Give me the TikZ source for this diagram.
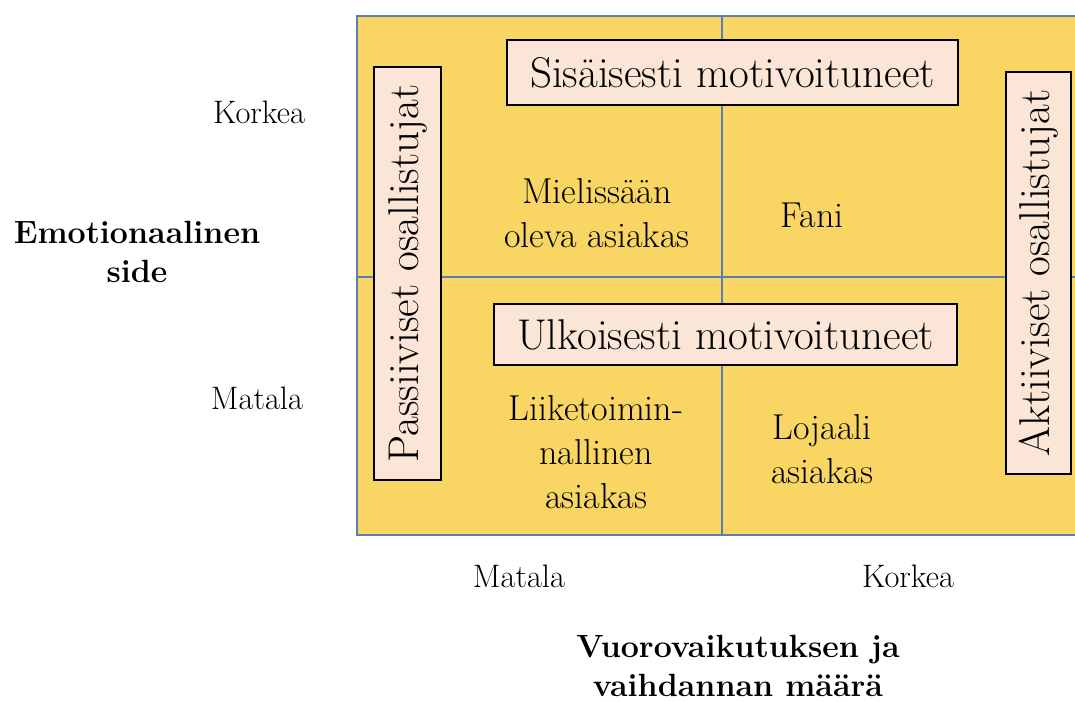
\documentclass[tikz,border=0pt]{standalone}
\usetikzlibrary{positioning}
\definecolor{quadyellow}{HTML}{F9D564}
\definecolor{boxpink}{HTML}{FBE5D6}
\definecolor{gridblue}{HTML}{5A7DB5}

\begin{document}
\begin{tikzpicture}[x=0.02cm,y=-0.02cm,
  group/.style={draw=black,line width=1pt,fill=boxpink,inner sep=0pt,font=\fontsize{24.5}{28}\selectfont},
  quad/.style={align=center,font=\fontsize{20.5}{25}\selectfont},
  level/.style={font=\fontsize{18.5}{22}\selectfont},
  axis/.style={align=center,font=\bfseries\fontsize{18.3}{22}\selectfont}]

\useasboundingbox (0,0) rectangle (1075,702);
\clip (0,0) rectangle (1075,702);

% quadrants
\coordinate (nw) at (357,16);
\coordinate (se) at (1087,535);
\coordinate (mid) at (722,277);
\draw[gridblue,line width=1pt,fill=quadyellow] (nw) rectangle (se);
\draw[gridblue,line width=1pt] (nw -| mid) -- (se -| mid);
\draw[gridblue,line width=1pt] (nw |- mid) -- (se |- mid);

% group boxes
\node[group,minimum width=9.02cm,minimum height=1.3cm] at (732.5,72.5) (inner) {Sisäisesti motivoituneet};
\node[group,minimum width=9.26cm,minimum height=1.22cm] at (725.5,334.5) (outer) {Ulkoisesti motivoituneet};
\node[group,rotate=90,minimum width=8.26cm,minimum height=1.34cm] at (407.5,273.5) (passive) {Passiiviset osallistujat};
\node[group,rotate=90,minimum width=8.04cm,minimum height=1.3cm] at (1038.5,273) (active) {Aktiiviset osallistujat};

% quadrant texts
\node[quad] at (597,213) (pleased) {Mielissään\\oleva asiakas};
\node[quad] at (812,215) (fan) {Fani};
\node[quad] at (596,452) (business) {Liiketoimin-\\nallinen\\asiakas};
\node[quad] at (822,449) (loyal) {Lojaali\\asiakas};

% axes
\foreach \name/\x/\y/\txt in {yhigh/259/112/Korkea, ylow/257/398/Matala, xlow/519/576/Matala, xhigh/908/576/Korkea}
	\node[level] at (\x,\y) (\name) {\txt};

\node[axis] at (137,252) (emotion) {Emotionaalinen\\side};
\node[axis] at (738,666) (exchange) {Vuorovaikutuksen ja\\vaihdannan määrä};
\end{tikzpicture}
\end{document}
